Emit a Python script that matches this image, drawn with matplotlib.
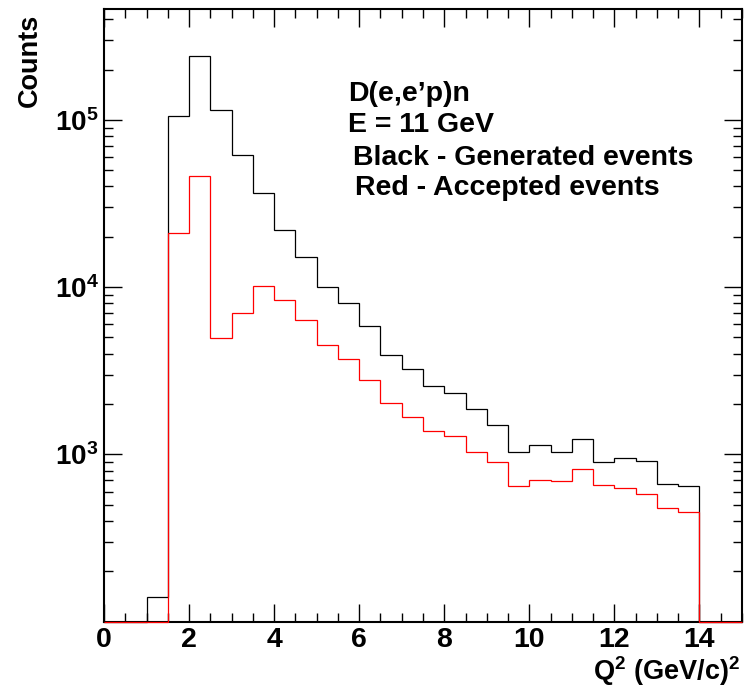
import numpy as np
import matplotlib
matplotlib.use("Agg")
import matplotlib.pyplot as plt
from matplotlib.ticker import LogLocator, MultipleLocator, NullFormatter, FixedLocator

plt.rcParams['font.family'] = ['Liberation Sans', 'DejaVu Sans']
plt.rcParams['font.weight'] = 'bold'
plt.rcParams['mathtext.fontset'] = 'custom'
plt.rcParams['mathtext.rm'] = 'Liberation Sans:bold'
plt.rcParams['mathtext.it'] = 'Liberation Sans:bold'
plt.rcParams['mathtext.bf'] = 'Liberation Sans:bold'
plt.rcParams['mathtext.default'] = 'rm'

# Q^2 binning: 30 bins of 0.5 (GeV/c)^2 from 0 to 15
bin_edges = np.arange(0.0, 15.01, 0.5)

generated = [0, 0, 141, 106000, 242000, 114000, 61500, 36500, 22100, 15200,
             10000, 8020, 5820, 3910, 3250, 2550, 2335, 1875, 1490, 1030,
             1136, 1037, 1240, 904, 950, 908, 662, 651, 0, 0]
accepted = [0, 0, 0, 21100, 46400, 4940, 7030, 10100, 8330, 6400,
            4480, 3710, 2790, 2035, 1670, 1371, 1293, 1032, 904, 644,
            703, 697, 817, 653, 630, 583, 478, 451, 0, 0]

y_min, y_max = 100, 4.6e5
x_ticks = [0, 2, 4, 6, 8, 10, 12, 14]
y_ticks = [1e3, 1e4, 1e5]
y_tick_labels = [r'$10^{3}$', r'$10^{4}$', r'$10^{5}$']

fig = plt.figure(figsize=(7.45, 6.89), dpi=100)
ax = fig.add_axes([104/745, 1 - 621.7/689, (742 - 104)/745, (621.7 - 9)/689])

ax.set_yscale('log')
ax.set_xlim(0, 15)
ax.set_ylim(y_min, y_max)

# empty bins sit on the lower edge of the log axis
gen_draw = np.clip(np.array(generated, dtype=float), y_min, None)
acc_draw = np.clip(np.array(accepted, dtype=float), y_min, None)
ax.stairs(gen_draw, bin_edges, baseline=None, color='black', linewidth=0.9,
          zorder=3, clip_on=False)
ax.stairs(acc_draw, bin_edges, baseline=None, color='#ff0000', linewidth=0.9,
          zorder=4, clip_on=False)

ax.xaxis.set_major_locator(FixedLocator(x_ticks))
ax.xaxis.set_minor_locator(MultipleLocator(0.5))
ax.set_xticklabels([str(t) for t in x_ticks], fontsize=20.5, fontweight='bold')

ax.yaxis.set_major_locator(FixedLocator(y_ticks))
ax.set_yticklabels(y_tick_labels, fontsize=20)
ax.yaxis.set_minor_locator(LogLocator(base=10, subs=np.arange(2, 10)))
ax.yaxis.set_minor_formatter(NullFormatter())

ax.tick_params(which='both', direction='in', top=True, right=True, width=1.0)
ax.tick_params(which='major', length=13)
ax.tick_params(which='minor', length=6.5)
ax.tick_params(axis='x', which='major', pad=4)
ax.tick_params(axis='y', which='major', pad=4)
for s in ax.spines.values():
    s.set_linewidth(1.5)

fig.text(30/745, 1 - 14/689, 'Counts', rotation=90, ha='center', va='top',
         fontsize=19.5, fontweight='bold')
fig.text(740/745, 1 - 680/689, r'Q$^{2}$ (GeV/c)$^{2}$', ha='right', va='baseline',
         fontsize=19.5)

annot = [("D(e,e\u2019p)n", 348, 101), ("E = 11 GeV", 348, 132),
         ("Black - Generated events", 353, 165), ("Red - Accepted events", 355, 195)]
for txt, px, py in annot:
    fig.text(px/745, 1 - py/689, txt, ha='left', va='baseline',
             fontsize=20.5, fontweight='bold')

fig.savefig('out.png', dpi=100)
